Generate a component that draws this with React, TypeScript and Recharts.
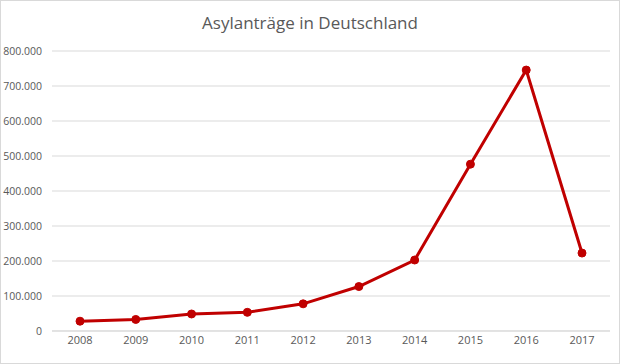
import { LineChart, Line, XAxis, YAxis, CartesianGrid } from 'recharts';

const years = ['2008', '2009', '2010', '2011', '2012', '2013', '2014', '2015', '2016', '2017'];
const applications = [28018, 33033, 48589, 53347, 77651, 127023, 202834, 476649, 745545, 222683];
const yTicks = [0, 100000, 200000, 300000, 400000, 500000, 600000, 700000, 800000];

const data = years.map((year, i) => ({ year, value: applications[i] }));

const fmt = (v: number) => (v === 0 ? '0' : String(v).replace(/\B(?=(\d{3})+(?!\d))/g, '.'));

const font = '"Open Sans", "Noto Sans", sans-serif';

export default function App() {
  return (
    <div
      style={{
        position: 'absolute',
        top: 0,
        left: 0,
        width: 618,
        height: 362,
        border: '1px solid #d9d9d9',
        background: '#fff',
        fontFamily: font,
      }}
    >
      <div
        style={{
          position: 'absolute',
          top: 10,
          left: 0,
          width: 618,
          textAlign: 'center',
          fontSize: 17,
          color: '#595959',
        }}
      >
        Asylanträge in Deutschland
      </div>
      <div style={{ position: 'absolute', top: -1, left: -1 }}>
        <LineChart width={620} height={364} data={data} margin={{ top: 51, right: 10, bottom: 0, left: 0 }}>
          <CartesianGrid vertical={false} stroke="#d9d9d9" />
          <XAxis
            dataKey="year"
            height={33}
            padding={{ left: 28, right: 28 }}
            axisLine={{ stroke: '#d9d9d9' }}
            tickLine={false}
            tickSize={0}
            tickMargin={5}
            tick={{ fill: '#595959', fontSize: 11, fontFamily: font }}
          />
          <YAxis
            width={52}
            domain={[0, 800000]}
            ticks={yTicks}
            axisLine={false}
            tickLine={false}
            tickSize={0}
            tickMargin={10}
            tickFormatter={fmt}
            tick={{ fill: '#595959', fontSize: 10.5, fontFamily: font }}
          />
          <Line
            type="linear"
            dataKey="value"
            stroke="#c00000"
            strokeWidth={3}
            dot={{ r: 4, fill: '#c00000', stroke: '#c00000', strokeWidth: 1 }}
            isAnimationActive={false}
          />
        </LineChart>
      </div>
    </div>
  );
}
